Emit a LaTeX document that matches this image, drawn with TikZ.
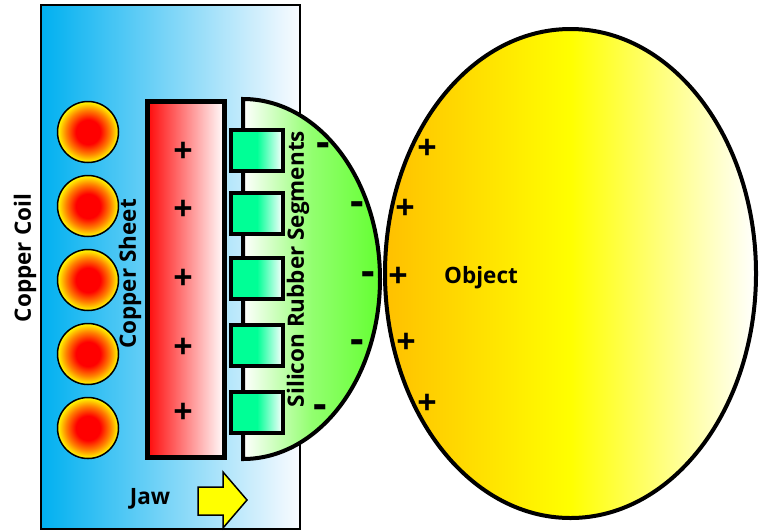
\documentclass[tikz,border=0pt]{standalone}
\usepackage{fontspec}
\setmainfont{Open Sans}
\usetikzlibrary{shapes.geometric}

\definecolor{jawblue}{RGB}{0,176,240}
\definecolor{jawwhite}{RGB}{250,251,255}
\definecolor{sheetred}{RGB}{255,10,10}
\definecolor{rubbergreen}{RGB}{100,255,50}
\definecolor{seggreen}{RGB}{0,255,150}
\definecolor{objorange}{RGB}{255,192,0}
\definecolor{objyellow}{RGB}{255,255,0}

% hot core of each coil turn
\pgfdeclareradialshading{coilglow}{\pgfpoint{0bp}{0bp}}{%
  color(0bp)=(red); color(10bp)=(red); color(18bp)=(orange); color(25bp)=(yellow); color(50bp)=(yellow)}

\begin{document}
\begin{tikzpicture}[x=1pt, y=-1pt,
        jaw/.style = {draw, line width=1.5pt, left color=jawblue, right color=jawwhite},
        coil/.style = {draw, line width=1.5pt, circle, minimum size=61pt, inner sep=0pt, shading=coilglow},
        sheet/.style = {draw, line width=5pt, left color=sheetred, right color=white},
        rubber/.style = {draw, line width=4pt, left color=white, right color=rubbergreen,
            middle color=rubbergreen!70!white},
        seg/.style = {draw, line width=4pt, left color=seggreen, right color=white, middle color=seggreen},
        obj/.style = {draw, line width=4pt, ellipse, inner sep=0pt, minimum width=371pt,
            minimum height=489pt, left color=objorange, right color=white, middle color=objyellow},
        push/.style = {draw, line width=1.5pt, fill=objyellow},
        chg/.style = {font=\bfseries\fontsize{34}{34}\selectfont, inner sep=0pt},
        neg/.style = {font=\bfseries\fontsize{42}{42}\selectfont, inner sep=0pt},
        lbl/.style = {font=\bfseries\fontsize{22.5}{22.5}\selectfont, inner sep=0pt}
    ]
    \useasboundingbox (0,0) rectangle (759,531);
    %--- Draw Jaw ---%
        \path[jaw] (41,5) rectangle (300,529);
        \foreach \y [count=\i] in {132,206,280,354,428}
            \node (coil\i) [coil] at (88,\y) {};
        \path[sheet] (147.5,101.5) rectangle (224.5,457.5);
        \path[rubber] (243,99) arc[start angle=-90, end angle=90, x radius=137, y radius=180] -- cycle;
        \foreach \t in {130,193,258,325,392}
            \path[seg] (231,\t) rectangle (283,\t+41);
        \path[push] (198,487) -- (223,487) -- (223,472) -- (247,500) -- (223,528)
            -- (223,515) -- (198,515) -- cycle;
    %--- Draw Object ---%
        \node (o) [obj] at (570.5,273.5) {};
    %--- Draw Charges ---%
        \foreach \y [count=\i] in {152,210,279,348,413}
            \node (sp\i) [chg] at (183,\y) {+};
        \foreach \x/\y [count=\i] in {323/150,357/209,368/279,357/347,320/412}
            \node (rm\i) [neg] at (\x,\y) {-};
        \foreach \x/\y [count=\i] in {427/149,405/209,398/277,406/343,427/404}
            \node (op\i) [chg] at (\x,\y) {+};
    %--- Draw Labels ---%
        \node (coillbl) [lbl, rotate=90] at (25,258) {Copper Coil};
        \node (sheetlbl) [lbl, rotate=90] at (130,274) {Copper Sheet};
        \node (rubberlbl) [lbl, rotate=90] at (298,269) {Silicon Rubber Segments};
        \node (objlbl) [lbl] at (481,278) {Object};
        \node (jawlbl) [lbl] at (150,499) {Jaw};
\end{tikzpicture}
\end{document}
